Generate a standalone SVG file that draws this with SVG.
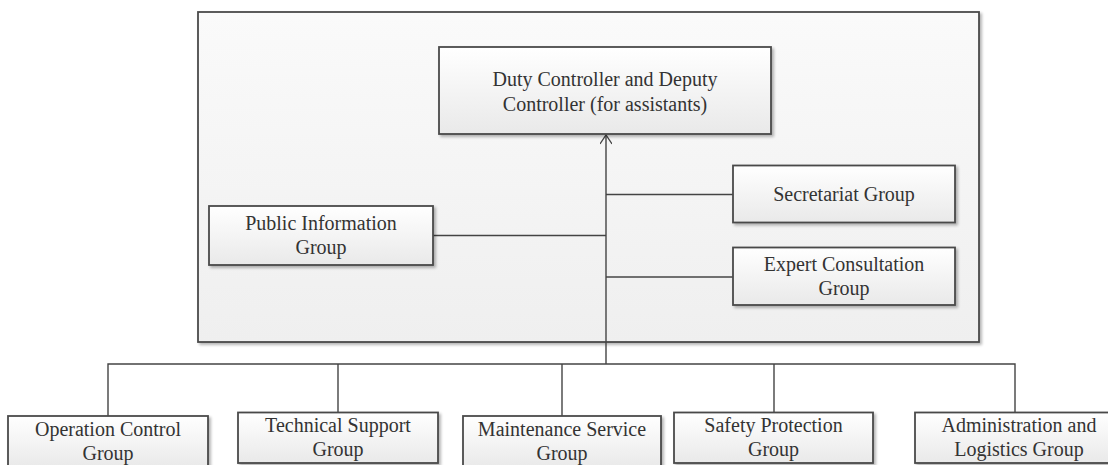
<svg xmlns="http://www.w3.org/2000/svg" width="1108" height="465" viewBox="0 0 1108 465">
<defs>
<linearGradient id="boxg" x1="0" y1="0" x2="0" y2="1">
<stop offset="0" stop-color="#ffffff"/>
<stop offset="1" stop-color="#e9e9e9"/>
</linearGradient>
<linearGradient id="outerg" x1="0" y1="0" x2="0" y2="1">
<stop offset="0" stop-color="#fafafa"/>
<stop offset="1" stop-color="#efefef"/>
</linearGradient>
<filter id="sh" x="-10%" y="-10%" width="125%" height="135%">
<feGaussianBlur in="SourceAlpha" stdDeviation="1.5"/>
<feOffset dx="2" dy="2" result="b"/>
<feComponentTransfer><feFuncA type="linear" slope="0.3"/></feComponentTransfer>
<feMerge><feMergeNode/><feMergeNode in="SourceGraphic"/></feMerge>
</filter>
<marker id="arr" viewBox="0 0 12 12" refX="10" refY="6" markerWidth="12" markerHeight="12" markerUnits="userSpaceOnUse" orient="auto">
<path d="M1,0 L10,6 L1,12" fill="none" stroke="#444" stroke-width="1.3"/>
</marker>
</defs>
<style>
.box{fill:url(#boxg);stroke:#4a4a4a;stroke-width:1.8;filter:url(#sh)}
.outer{fill:url(#outerg);stroke:#4a4a4a;stroke-width:1.8;filter:url(#sh)}
.t{font-family:"Liberation Serif","Times New Roman",serif;font-size:20px;fill:#333;text-anchor:middle}
.c{fill:none;stroke:#444;stroke-width:1.4}
</style>
<rect width="1108" height="465" fill="#ffffff"/>
<g id="container">
<rect class="outer" x="198" y="12" width="781" height="330"/>
</g>
<g id="connectors">
<path class="c" d="M606,364 V135" marker-end="url(#arr)"/>
<path class="c" d="M433,235.5 H606"/>
<path class="c" d="M606,194.5 H733"/>
<path class="c" d="M606,277 H733"/>
<path class="c" d="M108,416 V364 H1015 V412.5"/>
<path class="c" d="M338,364 V412.5"/>
<path class="c" d="M562,364 V416"/>
<path class="c" d="M774,364 V412.5"/>
</g>
<g id="duty">
<rect class="box" x="439" y="47" width="332" height="87"/>
<text class="t" x="605" y="86">Duty Controller and Deputy</text>
<text class="t" x="605" y="110.5">Controller (for assistants)</text>
</g>
<g id="secretariat">
<rect class="box" x="733" y="165.5" width="222" height="57"/>
<text class="t" x="844" y="201">Secretariat Group</text>
</g>
<g id="public">
<rect class="box" x="209" y="206" width="224" height="59"/>
<text class="t" x="321" y="230">Public Information</text>
<text class="t" x="321" y="254">Group</text>
</g>
<g id="expert">
<rect class="box" x="733" y="247.5" width="222" height="57.5"/>
<text class="t" x="844" y="271">Expert Consultation</text>
<text class="t" x="844" y="295">Group</text>
</g>
<g id="operation">
<rect class="box" x="8" y="416" width="200" height="52"/>
<text class="t" x="108" y="435.5">Operation Control</text>
<text class="t" x="108" y="459.5">Group</text>
</g>
<g id="technical">
<rect class="box" x="238" y="412.5" width="200" height="50.5"/>
<text class="t" x="338" y="432">Technical Support</text>
<text class="t" x="338" y="456">Group</text>
</g>
<g id="maintenance">
<rect class="box" x="463" y="416" width="198" height="52"/>
<text class="t" x="562" y="435.5">Maintenance Service</text>
<text class="t" x="562" y="459.5">Group</text>
</g>
<g id="safety">
<rect class="box" x="674" y="412.5" width="199" height="50.5"/>
<text class="t" x="773.5" y="432">Safety Protection</text>
<text class="t" x="773.5" y="456">Group</text>
</g>
<g id="admin">
<rect class="box" x="915" y="412.5" width="200" height="50.5"/>
<text class="t" x="1019" y="432">Administration and</text>
<text class="t" x="1019" y="456">Logistics Group</text>
</g>
</svg>
